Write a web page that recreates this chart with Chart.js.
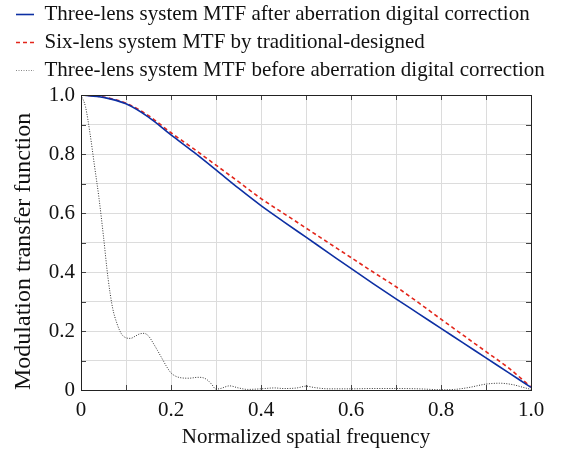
<!DOCTYPE html>
<html>
<head>
<meta charset="utf-8">
<script src="https://cdn.jsdelivr.net/npm/chart.js@4/dist/chart.umd.min.js"></script>
<style>
  body { margin: 0; background: #fff; }
  #mtf-canvas { display: block; }
</style>
</head>
<body>
<canvas id="mtf-canvas" width="563" height="450"></canvas>
<script>
// normalized spatial frequency for the two smooth curves
const freq = [0, 0.05, 0.1, 0.15, 0.2, 0.25, 0.3, 0.35, 0.4, 0.45, 0.5,
              0.55, 0.6, 0.65, 0.7, 0.75, 0.8, 0.85, 0.9, 0.95, 1.0];
const mtfCorrected = [1.0, 0.992, 0.97, 0.925, 0.865, 0.807, 0.746, 0.684, 0.625, 0.571, 0.518,
                      0.465, 0.412, 0.36, 0.309, 0.259, 0.209, 0.159, 0.109, 0.059, 0.009];
const mtfSixLens = [1.0, 0.993, 0.972, 0.93, 0.872, 0.818, 0.762, 0.706, 0.649, 0.599, 0.549,
                    0.499, 0.449, 0.399, 0.35, 0.296, 0.24, 0.185, 0.13, 0.075, 0.01];

// before correction - sampled more densely since it wiggles
const freqBefore = [0, 0.01, 0.02, 0.03, 0.04, 0.05, 0.06, 0.07, 0.08, 0.09, 0.1,
                    0.11, 0.12, 0.13, 0.14, 0.15, 0.16, 0.17, 0.18, 0.19, 0.2,
                    0.21, 0.22, 0.24, 0.26, 0.27, 0.28, 0.29, 0.3, 0.31, 0.33,
                    0.35, 0.37, 0.4, 0.43, 0.45, 0.48, 0.5, 0.52, 0.55, 0.6,
                    0.65, 0.7, 0.75, 0.8, 0.83, 0.86, 0.9, 0.93, 0.96, 0.98, 1.0];
const mtfBefore = [1.0, 0.96, 0.87, 0.76, 0.65, 0.52, 0.38, 0.28, 0.225, 0.19, 0.177,
                   0.175, 0.182, 0.19, 0.192, 0.183, 0.16, 0.134, 0.107, 0.08, 0.058,
                   0.047, 0.042, 0.04, 0.043, 0.042, 0.035, 0.02, 0.003, 0.005, 0.014,
                   0.007, 0.002, 0.004, 0.007, 0.005, 0.007, 0.013, 0.008, 0.004, 0.004,
                   0.005, 0.005, 0.004, 0.001, 0.002, 0.008, 0.02, 0.023, 0.018, 0.01, 0.002];

const labelNames = [
    'Three-lens system MTF after aberration digital correction',
    'Six-lens system MTF by traditional-designed',
    'Three-lens system MTF before aberration digital correction'
];

const toPoints = (xs, ys) => xs.map((x, i) => ({ x: x, y: ys[i] }));

const tickLabel = (value, index) => {
    if (index % 2 !== 0) return '';
    return value === 0 ? '0' : value.toFixed(1);
};

const serif = { family: '"Liberation Serif", "Times New Roman", serif', size: 21 };

// empty axis used only to reserve space on one side of the plot
const spacer = (pos, size) => ({
    position: pos,
    display: true,
    grid: { display: false },
    border: { display: false },
    ticks: { display: false },
    afterFit: (scale) => {
        if (pos === 'top') scale.height = size; else scale.width = size;
    }
});

// box around the plot plus little inward tick marks on every side
const frameTicks = {
    id: 'frameTicks',
    afterDatasetsDraw(chart) {
        const { ctx, chartArea: a, scales } = chart;
        ctx.save();
        ctx.strokeStyle = '#444';
        ctx.lineWidth = 1;
        ctx.beginPath();
        for (let i = 1; i < 10; i++) {
            const px = Math.round(scales.x.getPixelForValue(i / 10)) + 0.5;
            ctx.moveTo(px, a.bottom); ctx.lineTo(px, a.bottom - 5);
            ctx.moveTo(px, a.top); ctx.lineTo(px, a.top + 5);
            const py = Math.round(scales.y.getPixelForValue(i / 10)) + 0.5;
            ctx.moveTo(a.left, py); ctx.lineTo(a.left + 5, py);
            ctx.moveTo(a.right, py); ctx.lineTo(a.right - 5, py);
        }
        ctx.stroke();
        ctx.strokeStyle = '#222';
        ctx.strokeRect(Math.round(a.left) + 0.5, Math.round(a.top) + 0.5,
                       Math.round(a.right - a.left), Math.round(a.bottom - a.top));
        ctx.restore();
    }
};

const ctx = document.getElementById('mtf-canvas');

new Chart(ctx, {
    type: 'line',
    data: {
        datasets: [{
            label: labelNames[0],
            data: toPoints(freq, mtfCorrected),
            borderColor: '#0d2fa3',
            borderWidth: 1.6,
            pointRadius: 0,
            cubicInterpolationMode: 'monotone',
            fill: false
        }, {
            label: labelNames[1],
            data: toPoints(freq, mtfSixLens),
            borderColor: '#e3261b',
            borderWidth: 1.6,
            borderDash: [4, 3],
            pointRadius: 0,
            cubicInterpolationMode: 'monotone',
            fill: false
        }, {
            label: labelNames[2],
            data: toPoints(freqBefore, mtfBefore),
            borderColor: '#333',
            borderWidth: 1,
            borderDash: [1, 1.5],
            pointRadius: 0,
            cubicInterpolationMode: 'monotone',
            fill: false
        }]
    },
    options: {
        responsive: false,
        animation: false,
        layout: { padding: { left: 9, right: 0, top: -3, bottom: 0 } },
        scales: {
            x: {
                type: 'linear',
                min: 0,
                max: 1,
                ticks: {
                    stepSize: 0.1,
                    autoSkip: false,
                    maxRotation: 0,
                    color: '#111',
                    font: serif,
                    padding: 8,
                    callback: tickLabel
                },
                grid: { color: '#dcdcdc', drawTicks: false },
                border: { display: false },
                title: { display: true, text: 'Normalized spatial frequency', color: '#111', font: serif, padding: 0 },
                afterFit: (scale) => { scale.height = 60; }
            },
            y: {
                min: 0,
                max: 1,
                ticks: {
                    stepSize: 0.1,
                    autoSkip: false,
                    color: '#111',
                    font: serif,
                    padding: 6,
                    callback: tickLabel
                },
                grid: { color: '#dcdcdc', drawTicks: false },
                border: { display: false },
                title: {
                    display: true,
                    text: 'Modulation transfer function',
                    color: '#111',
                    align: 'start',
                    font: { family: serif.family, size: 24 },
                    padding: { top: 0, bottom: 0 }
                },
                afterFit: (scale) => { scale.width = 72; }
            },
            topGap: spacer('top', 4),
            rightGap: spacer('right', 32)
        },
        plugins: {
            legend: {
                align: 'start',
                labels: {
                    color: '#111',
                    font: serif,
                    usePointStyle: true,
                    pointStyle: 'line',
                    pointStyleWidth: 18,
                    padding: 7,
                    // point style labels lose the dataset dash, put it back
                    generateLabels: (chart) => Chart.defaults.plugins.legend.labels.generateLabels(chart)
                        .map((item, i) => Object.assign(item, {
                            lineDash: chart.data.datasets[i].borderDash || [],
                            lineWidth: chart.data.datasets[i].borderWidth,
                            strokeStyle: i === 2 ? '#888' : chart.data.datasets[i].borderColor
                        }))
                }
            },
            tooltip: { enabled: false }
        }
    },
    plugins: [frameTicks]
});
</script>
</body>
</html>
